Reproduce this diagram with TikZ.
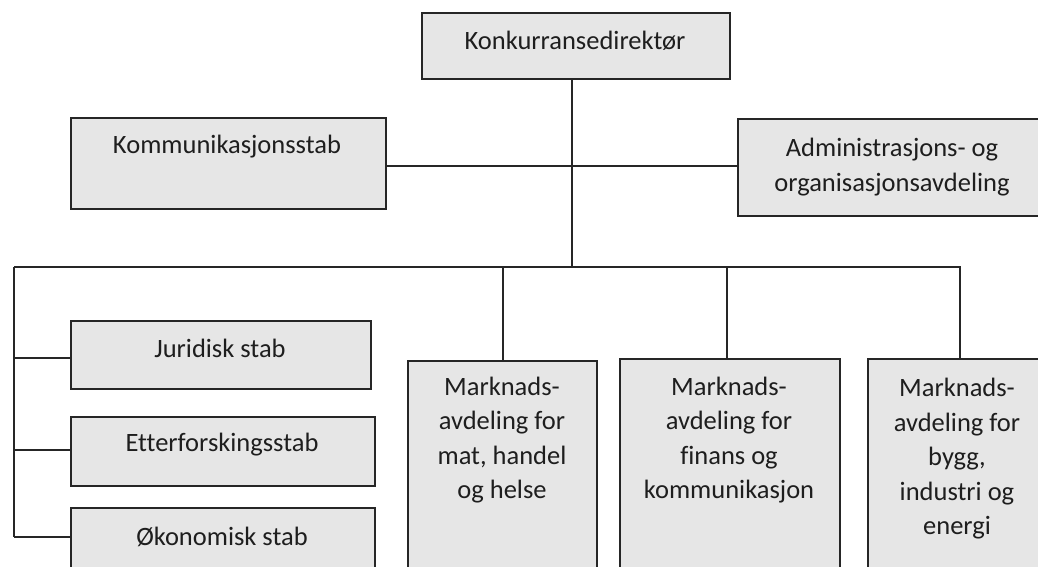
\documentclass[tikz,border=0pt]{standalone}
\usepackage{fontspec}
\setmainfont[Ligatures=NoCommon]{Carlito}
\definecolor{boxfill}{HTML}{E6E6E6}
\definecolor{boxline}{HTML}{262626}
\definecolor{txt}{HTML}{1E1E1E}
\tikzset{
  orgbox/.style={draw=boxline, line width=1.8pt, fill=boxfill, inner sep=0pt, anchor=north west},
  lbl/.style={text=txt, font=\fontsize{26.5}{34.5}\selectfont, align=center, inner sep=0pt},
  conn/.style={draw=boxline, line width=1.5pt},
}
\begin{document}
\begin{tikzpicture}[x=1pt,y=-1pt]
\useasboundingbox (0,0) rectangle (1038,567);
\clip (0,0) rectangle (1038,567);
% boxes
\node[orgbox, minimum width=308pt, minimum height=66pt] (top) at (421,12) {};
\node[orgbox, minimum width=315pt, minimum height=91pt] (komm) at (70,117) {};
\node[orgbox, minimum width=313pt, minimum height=97pt] (adm) at (737,118) {};
\node[orgbox, minimum width=300pt, minimum height=68pt] (jur) at (70,320) {};
\node[orgbox, minimum width=304pt, minimum height=69pt] (ett) at (70,416) {};
\node[orgbox, minimum width=304pt, minimum height=80pt] (oko) at (70,507) {};
\node[orgbox, minimum width=189pt, minimum height=230pt] (m1) at (407,360) {};
\node[orgbox, minimum width=220pt, minimum height=230pt] (m2) at (619,358) {};
\node[orgbox, minimum width=183pt, minimum height=230pt] (m3) at (867,358) {};
% labels
\node[lbl] (ltop) at (575,41) {Konkurransedirektør};
\node[lbl] (lkomm) at (227,147) {Kommunikasjonsstab};
\node[lbl] (ladm) at (892,167) {Administrasjons- og\\organisasjonsavdeling};
\node[lbl] (ljur) at (220,348) {Juridisk stab};
\node[lbl] (lett) at (222,445) {Etterforskingsstab};
\node[lbl] (loko) at (222,537) {Økonomisk stab};
\node[lbl] (lm1) at (502,440) {Marknads-\\avdeling for\\mat, handel\\og helse};
\node[lbl] (lm2) at (729,440) {Marknads-\\avdeling for\\finans og\\kommunikasjon};
\node[lbl] (lm3) at (957,459) {Marknads-\\avdeling for\\bygg,\\industri og\\energi};
% connector coordinates
\coordinate (busC) at (572,267);
\coordinate (busL) at (14,267);
\coordinate (busR) at (960,267);
\coordinate (leftEnd) at (14,537);
\coordinate (bj) at (14,358);
\coordinate (be) at (14,450);
\coordinate (bo) at (14,537);
\coordinate (b1) at (503,267);
\coordinate (b2) at (727,267);
% connectors
\draw[conn] (top.south -| busC) -- (busC);
\draw[conn] (komm.east |- 0,166) -- (adm.west |- 0,166);
\draw[conn] (busL) -- (busR) -- (m3.north -| busR);
\draw[conn] (busL) -- (leftEnd);
\draw[conn] (bj) -- (jur.west |- bj);
\draw[conn] (be) -- (ett.west |- be);
\draw[conn] (bo) -- (oko.west |- bo);
\draw[conn] (b1) -- (m1.north -| b1);
\draw[conn] (b2) -- (m2.north -| b2);
\end{tikzpicture}
\end{document}
